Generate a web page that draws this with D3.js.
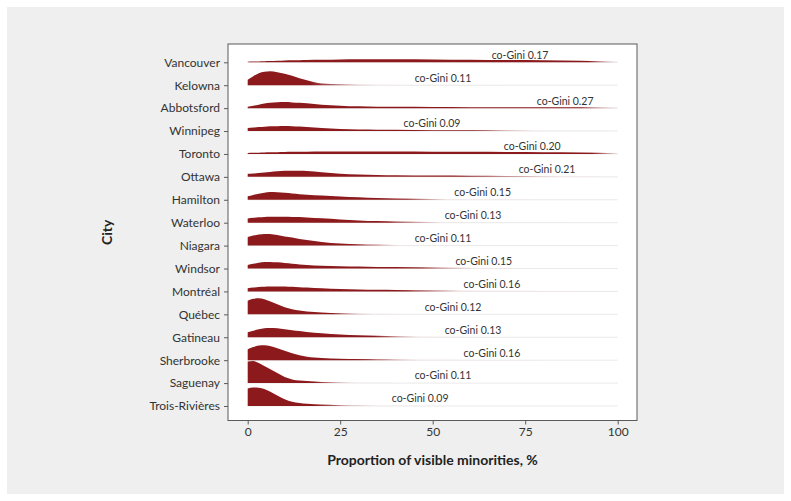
<!DOCTYPE html>
<html>
<head>
<meta charset="utf-8">
<script src="https://cdn.jsdelivr.net/npm/d3@7"></script>
<style>
  html, body { margin: 0; padding: 0; background: #ffffff; }
  svg { display: block; font-family: Lato, "Open Sans", sans-serif; }
</style>
</head>
<body>
<svg id="chart" width="791" height="501"></svg>
<script>
// ---------------- DATA ----------------
const cities = ["Vancouver","Kelowna","Abbotsford","Winnipeg","Toronto","Ottawa","Hamilton","Waterloo",
  "Niagara","Windsor","Montréal","Québec","Gatineau","Sherbrooke","Saguenay","Trois-Rivières"];

const coGini = [0.17,0.11,0.27,0.09,0.20,0.21,0.15,0.13,0.11,0.15,0.16,0.12,0.13,0.16,0.11,0.09];

// x position (in % units) where each co-Gini label is centred
const labelAt = [73.6,52.8,85.8,49.8,76.9,80.9,63.5,60.9,52.8,63.8,66,55.5,60.9,66,52.8,46.6];

// colour fade of each ridge (in % units): solid until fadeFrom, pale by fadeTo
const fadeFrom = [92,17,90,61,93,58,43,38,29,47,43,23,34,29,18,18];
const fadeTo   = [100,35,100,77,100,85,54,52,41,61,57,34,46,47,30,34];

// grid of x values (% visible minorities) at which densities were read
const xGrid = [0,1.5,3,4.5,6,8,10,12,14,16,20,25,30,35,40,50,60,70,80,90,100];

// relative density for each city on xGrid
const vancouver    = [0.5,0.7,0.9,1.1,1.2,1.5,1.8,2,2.1,2.3,2.5,2.8,3,3,3,2.8,2.5,2.2,2,1.5,0.5];
const kelowna      = [5.5,9,12,13.5,14,13,11.5,9.5,7,5,1.8,0.9,0.5,0.4,0.3,0.2,0.1,0.05,0,0,0];
const abbotsford   = [1.5,2.5,3.5,4.5,5.3,5.9,6,5.7,5.3,4.8,3.5,2.5,1.8,1.5,1.3,1.1,1,1,0.9,0.8,0.3];
const winnipeg     = [3,3.5,4,4.4,4.7,4.9,5,4.8,4.5,4,3,2,1.6,1.4,1.2,0.9,0.7,0.5,0.3,0.2,0.1];
const toronto      = [1,1.1,1.3,1.4,1.6,1.8,2,2.1,2.2,2.3,2.4,2.5,2.5,2.5,2.4,2.3,2.1,2,1.8,1.5,0.8];
const ottawa       = [3,3.4,3.9,4.3,4.8,5.5,6,6.2,6.1,5.8,4.5,3,2.3,1.9,1.6,1.3,1.1,0.9,0.7,0.5,0.2];
const hamilton     = [3.5,4.8,6,7,7.7,7.5,7,6.3,5.6,5,4.2,3.3,2.5,1.7,1.3,0.8,0.4,0.2,0.1,0,0];
const waterloo     = [4.3,4.9,5.5,5.8,6,6,6,5.8,5.6,5.3,4.5,3.3,2.3,1.6,1.2,0.7,0.3,0.2,0.1,0,0];
const niagara      = [8.5,10,11.2,11.7,11.5,10.5,9.2,8,6.7,5.5,3.7,2,1.3,1,0.7,0.3,0.1,0,0,0,0];
const windsor      = [3.5,4.7,5.8,6.5,6.6,6.2,5.5,4.8,4.1,3.5,2.8,2.3,1.9,1.6,1.4,1,0.7,0.4,0.2,0.1,0];
const montreal     = [3.3,3.9,4.5,4.8,5,5,4.9,4.6,4.3,4,3.2,2.4,2,1.7,1.5,1.2,1,0.7,0.5,0.3,0.1];
const quebec       = [13.5,15.5,16,15,13,10,7,5,3.8,2.8,1.8,1.1,0.7,0.5,0.3,0.1,0,0,0,0,0];
const gatineau     = [5,6.5,8,9,9.3,9,8,7,6.2,5.3,4,2.8,2,1.5,1,0.5,0.3,0.1,0,0,0];
const sherbrooke   = [11,13.2,14.6,15,14.2,12,9.5,7,5,3.5,2.2,1.5,1.1,0.9,0.7,0.4,0.2,0.1,0,0,0];
const saguenay     = [21.5,22,20,17,14,10,6,3.7,2.6,2,1.2,0.7,0.4,0.3,0.2,0.1,0,0,0,0,0];
const troisRivieres= [17.5,18.5,18.3,17,14.5,10.5,6.8,4.2,3,2.3,1.4,0.8,0.5,0.3,0.2,0.1,0,0,0,0,0];

const densities = [vancouver,kelowna,abbotsford,winnipeg,toronto,ottawa,hamilton,waterloo,
  niagara,windsor,montreal,quebec,gatineau,sherbrooke,saguenay,troisRivieres];

const xTicks = [0,25,50,75,100];
const xTitle = "Proportion of visible minorities, %";
const yTitle = "City";

// ---------------- LAYOUT ----------------
const W = 791, H = 501;
const svg = d3.select("#chart");
const frame = {left: 228, right: 637, top: 44, bottom: 420.5};
const ink = "#8c1a1d";

svg.append("rect").attr("x", 7).attr("y", 7).attr("width", W - 14).attr("height", H - 14)
  .attr("fill", "#eeefee");

svg.append("rect").attr("x", frame.left).attr("y", frame.top)
  .attr("width", frame.right - frame.left).attr("height", frame.bottom - frame.top)
  .attr("fill", "#ffffff");

const x = d3.scaleLinear().domain([0, 100]).range([247.7, 617.7]);
const y = d3.scalePoint().domain(cities).range([62.3, 406]);
const step = y.step();
const h = d3.scaleLinear().domain([0, 22.9]).range([0, step]);

const defs = svg.append("defs");
cities.forEach((c, i) => {
  const g = defs.append("linearGradient").attr("id", "grad" + i)
    .attr("gradientUnits", "userSpaceOnUse")
    .attr("x1", x(0)).attr("x2", x(100)).attr("y1", 0).attr("y2", 0);
  g.append("stop").attr("offset", fadeFrom[i] / 100).attr("stop-color", ink);
  g.append("stop").attr("offset", Math.min(1, fadeTo[i] / 100)).attr("stop-color", "#f3e4e4");
});

const area = d3.area()
  .x(d => x(d[0]))
  .y0(d => d[2])
  .y1(d => d[2] - h(d[1]))
  .curve(d3.curveMonotoneX);

const plot = svg.append("g");
cities.forEach((c, i) => {
  const base = y(c);
  plot.append("line")
    .attr("x1", x(0)).attr("x2", x(100)).attr("y1", base).attr("y2", base)
    .attr("stroke", "#e9e9e9").attr("stroke-width", 1);
  const pts = xGrid.map((xv, k) => [xv, densities[i][k], base]);
  plot.append("path").attr("d", area(pts)).attr("fill", `url(#grad${i})`);
  plot.append("text")
    .attr("x", x(labelAt[i])).attr("y", base - 3.6)
    .attr("text-anchor", "middle")
    .attr("font-size", 10.5).attr("fill", "#333")
    .text("co-Gini " + coGini[i].toFixed(2));
});

// frame border
svg.append("rect").attr("x", frame.left).attr("y", frame.top)
  .attr("width", frame.right - frame.left).attr("height", frame.bottom - frame.top)
  .attr("fill", "none").attr("stroke", "#5a5a5a").attr("stroke-width", 1);

// axes
const xAxis = svg.append("g").attr("transform", `translate(0,${frame.bottom})`)
  .call(d3.axisBottom(x).tickValues(xTicks).tickSize(4).tickPadding(3));
const yAxis = svg.append("g").attr("transform", `translate(${frame.left},0)`)
  .call(d3.axisLeft(y).tickSize(4).tickPadding(4));
[xAxis, yAxis].forEach(a => {
  a.select(".domain").remove();
  a.selectAll("line").attr("stroke", "#5a5a5a");
  a.selectAll("text").attr("fill", "#333").attr("font-size", 12)
    .attr("font-family", "Lato, 'Open Sans', sans-serif");
});

svg.append("text").attr("x", (frame.left + frame.right) / 2).attr("y", 465)
  .attr("text-anchor", "middle").attr("font-weight", "bold").attr("font-size", 14)
  .attr("fill", "#222").text(xTitle);

svg.append("text").attr("transform", `translate(112,${(frame.top + frame.bottom) / 2}) rotate(-90)`)
  .attr("text-anchor", "middle").attr("font-weight", "bold").attr("font-size", 14)
  .attr("fill", "#222").text(yTitle);
</script>
</body>
</html>
